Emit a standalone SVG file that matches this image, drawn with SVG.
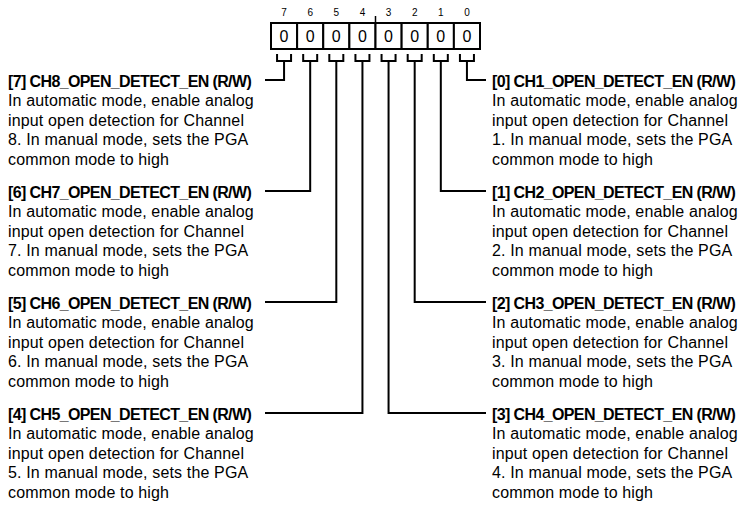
<svg xmlns="http://www.w3.org/2000/svg" width="739" height="506" viewBox="0 0 739 506">
<style>
.bitno{font-family:"Liberation Sans",Arial,sans-serif;font-size:10px;fill:#000;text-anchor:middle}
.val{font-family:"Liberation Sans",Arial,sans-serif;font-size:16px;fill:#000;text-anchor:middle}
.cell{fill:#fff;stroke:#000;stroke-width:2}
.h{font-family:"Liberation Sans",Arial,sans-serif;font-size:16px;font-weight:bold;fill:#000;letter-spacing:-0.62px}
.t{font-family:"Liberation Sans",Arial,sans-serif;font-size:16px;fill:#000;letter-spacing:0.15px}
.c{fill:none;stroke:#000;stroke-width:2}
</style>
<g id="register">
<text class="bitno" x="284.06" y="16">7</text>
<text class="bitno" x="310.19" y="16">6</text>
<text class="bitno" x="336.31" y="16">5</text>
<text class="bitno" x="362.44" y="16">4</text>
<text class="bitno" x="388.56" y="16">3</text>
<text class="bitno" x="414.69" y="16">2</text>
<text class="bitno" x="440.81" y="16">1</text>
<text class="bitno" x="466.94" y="16">0</text>
<line x1="375.5" y1="16" x2="375.5" y2="23" stroke="#000" stroke-width="1.5"/>
<rect class="cell" x="271" y="23" width="26.125" height="26"/>
<rect class="cell" x="297.125" y="23" width="26.125" height="26"/>
<rect class="cell" x="323.25" y="23" width="26.125" height="26"/>
<rect class="cell" x="349.375" y="23" width="26.125" height="26"/>
<rect class="cell" x="375.5" y="23" width="26.125" height="26"/>
<rect class="cell" x="401.625" y="23" width="26.125" height="26"/>
<rect class="cell" x="427.75" y="23" width="26.125" height="26"/>
<rect class="cell" x="453.875" y="23" width="26.125" height="26"/>
<text class="val" x="284.06" y="42">0</text>
<text class="val" x="310.19" y="42">0</text>
<text class="val" x="336.31" y="42">0</text>
<text class="val" x="362.44" y="42">0</text>
<text class="val" x="388.56" y="42">0</text>
<text class="val" x="414.69" y="42">0</text>
<text class="val" x="440.81" y="42">0</text>
<text class="val" x="466.94" y="42">0</text>
</g>
<g id="connectors">
<path class="c" d="M277.06 54V61H291.06V54M284.06 61V80H265"/>
<path class="c" d="M303.19 54V61H317.19V54M310.19 61V191H265"/>
<path class="c" d="M329.31 54V61H343.31V54M336.31 61V302H265"/>
<path class="c" d="M355.44 54V61H369.44V54M362.44 61V413H265"/>
<path class="c" d="M381.56 54V61H395.56V54M388.56 61V413H486"/>
<path class="c" d="M407.69 54V61H421.69V54M414.69 61V302H486"/>
<path class="c" d="M433.81 54V61H447.81V54M440.81 61V191H486"/>
<path class="c" d="M459.94 54V61H473.94V54M466.94 61V80H486"/>
</g>
<g id="bit7">
<text class="h" x="8" y="86.5">[7] CH8_OPEN_DETECT_EN (R/W)</text>
<text class="t" x="8" y="106">In automatic mode, enable analog</text>
<text class="t" x="8" y="125.7">input open detection for Channel</text>
<text class="t" x="8" y="145.3">8. In manual mode, sets the PGA</text>
<text class="t" x="8" y="165">common mode to high</text>
</g>
<g id="bit6">
<text class="h" x="8" y="197.5">[6] CH7_OPEN_DETECT_EN (R/W)</text>
<text class="t" x="8" y="217">In automatic mode, enable analog</text>
<text class="t" x="8" y="236.7">input open detection for Channel</text>
<text class="t" x="8" y="256.3">7. In manual mode, sets the PGA</text>
<text class="t" x="8" y="276">common mode to high</text>
</g>
<g id="bit5">
<text class="h" x="8" y="308.5">[5] CH6_OPEN_DETECT_EN (R/W)</text>
<text class="t" x="8" y="328">In automatic mode, enable analog</text>
<text class="t" x="8" y="347.7">input open detection for Channel</text>
<text class="t" x="8" y="367.3">6. In manual mode, sets the PGA</text>
<text class="t" x="8" y="387">common mode to high</text>
</g>
<g id="bit4">
<text class="h" x="8" y="419.5">[4] CH5_OPEN_DETECT_EN (R/W)</text>
<text class="t" x="8" y="439">In automatic mode, enable analog</text>
<text class="t" x="8" y="458.7">input open detection for Channel</text>
<text class="t" x="8" y="478.3">5. In manual mode, sets the PGA</text>
<text class="t" x="8" y="498">common mode to high</text>
</g>
<g id="bit0">
<text class="h" x="492" y="86.5">[0] CH1_OPEN_DETECT_EN (R/W)</text>
<text class="t" x="492" y="106">In automatic mode, enable analog</text>
<text class="t" x="492" y="125.7">input open detection for Channel</text>
<text class="t" x="492" y="145.3">1. In manual mode, sets the PGA</text>
<text class="t" x="492" y="165">common mode to high</text>
</g>
<g id="bit1">
<text class="h" x="492" y="197.5">[1] CH2_OPEN_DETECT_EN (R/W)</text>
<text class="t" x="492" y="217">In automatic mode, enable analog</text>
<text class="t" x="492" y="236.7">input open detection for Channel</text>
<text class="t" x="492" y="256.3">2. In manual mode, sets the PGA</text>
<text class="t" x="492" y="276">common mode to high</text>
</g>
<g id="bit2">
<text class="h" x="492" y="308.5">[2] CH3_OPEN_DETECT_EN (R/W)</text>
<text class="t" x="492" y="328">In automatic mode, enable analog</text>
<text class="t" x="492" y="347.7">input open detection for Channel</text>
<text class="t" x="492" y="367.3">3. In manual mode, sets the PGA</text>
<text class="t" x="492" y="387">common mode to high</text>
</g>
<g id="bit3">
<text class="h" x="492" y="419.5">[3] CH4_OPEN_DETECT_EN (R/W)</text>
<text class="t" x="492" y="439">In automatic mode, enable analog</text>
<text class="t" x="492" y="458.7">input open detection for Channel</text>
<text class="t" x="492" y="478.3">4. In manual mode, sets the PGA</text>
<text class="t" x="492" y="498">common mode to high</text>
</g>
</svg>
